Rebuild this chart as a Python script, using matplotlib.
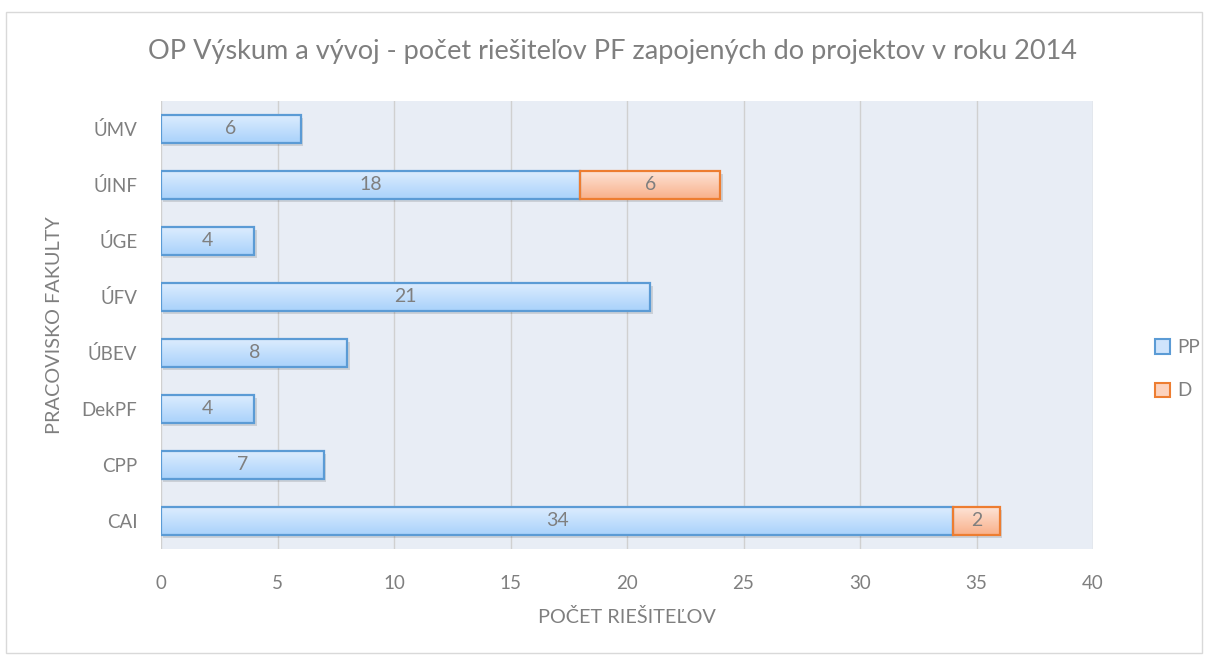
import numpy as np
import matplotlib.pyplot as plt
from matplotlib.patches import Rectangle
from matplotlib.colors import LinearSegmentedColormap

categories = ["CAI", "CPP", "DekPF", "ÚBEV", "ÚFV", "ÚGE", "ÚINF", "ÚMV"]
pp = [34, 7, 4, 8, 21, 4, 18, 6]
d = [2, 0, 0, 0, 0, 0, 6, 0]

plt.rcParams['font.family'] = ['Lato', 'DejaVu Sans']
grey = '#7f7f7f'

fig = plt.figure(figsize=(12.06, 6.57), dpi=100)
# outer chart border
fig.patches.append(Rectangle((6 / 1206, 4 / 657), 1196 / 1206, 641 / 657, transform=fig.transFigure,
                             fill=False, edgecolor='#d9d9d9', linewidth=1))
ax = fig.add_axes([161 / 1206, 108 / 657, 932 / 1206, 448 / 657])
ax.set_facecolor('#e8edf5')

y = np.arange(len(categories))
h = 0.5
blue_cm = LinearSegmentedColormap.from_list('b', ['#a9d2fb', '#dcecfe'])
orange_cm = LinearSegmentedColormap.from_list('o', ['#f9b08a', '#fde3d6'])
grad = np.linspace(0, 1, 64).reshape(-1, 1)


def draw(lefts, widths, cmap, edge):
    bars = ax.barh(y, widths, left=lefts, height=h, color='none', edgecolor=edge,
                   linewidth=1.6, zorder=4)
    for b in bars:
        if b.get_width() == 0:
            b.set_visible(False)
            continue
        x0, y0 = b.get_x(), b.get_y()
        w = b.get_width()
        # shadow
        ax.add_patch(Rectangle((x0 + 0.1, y0 - 0.06), w, h, facecolor='#000000', alpha=0.12,
                               edgecolor='none', zorder=2))
        im = ax.imshow(grad, cmap=cmap, aspect='auto', origin='lower',
                       extent=(x0, x0 + w, y0, y0 + h), zorder=3)
        im.set_clip_path(b)
    return bars


draw([0] * len(pp), pp, blue_cm, '#5b9bd5')
draw(pp, d, orange_cm, '#ed7d31')

for i in range(len(categories)):
    ax.text(pp[i] / 2, y[i], str(pp[i]), ha='center', va='center', color=grey, fontsize=14, zorder=5)
    if d[i]:
        ax.text(pp[i] + d[i] / 2, y[i], str(d[i]), ha='center', va='center', color=grey,
                fontsize=14, zorder=5)

ax.set_xlim(0, 40)
ax.set_ylim(-0.5, 7.5)
ax.set_xticks(range(0, 41, 5))
ax.set_yticks(y)
ax.set_yticklabels(categories)
ax.grid(axis='x', color='#d0d0d0', linewidth=1, zorder=0)
ax.set_axisbelow(True)
for s in ax.spines.values():
    s.set_visible(False)
ax.tick_params(length=0, colors=grey, labelsize=13.5)
ax.tick_params(axis='x', pad=19)
ax.tick_params(axis='y', pad=17)
ax.set_xlabel('POČET RIEŠITEĽOV', color=grey, fontsize=14.3, labelpad=11)
ax.set_ylabel('PRACOVISKO FAKULTY', color=grey, fontsize=14.3)
ax.yaxis.set_label_coords(-0.105, 0.5)
fig.text(0.5075, 1 - 51 / 657, 'OP Výskum a vývoj - počet riešiteľov PF zapojených do projektov v roku 2014',
         ha='center', va='center', color=grey, fontsize=19.5)

# legend
handles = [Rectangle((0, 0), 1, 1, facecolor='#cfe4fc', edgecolor='#5b9bd5', linewidth=1.5),
           Rectangle((0, 0), 1, 1, facecolor='#fcd2bd', edgecolor='#ed7d31', linewidth=1.5)]
fig.legend(handles, ['PP', 'D'], loc='center left', bbox_to_anchor=(1138 / 1206, 0.438),
           frameon=False, fontsize=13.5, labelcolor=grey, handlelength=0.8, handleheight=0.8,
           labelspacing=1.4, handletextpad=0.4)

fig.savefig('out.png', dpi=100)
